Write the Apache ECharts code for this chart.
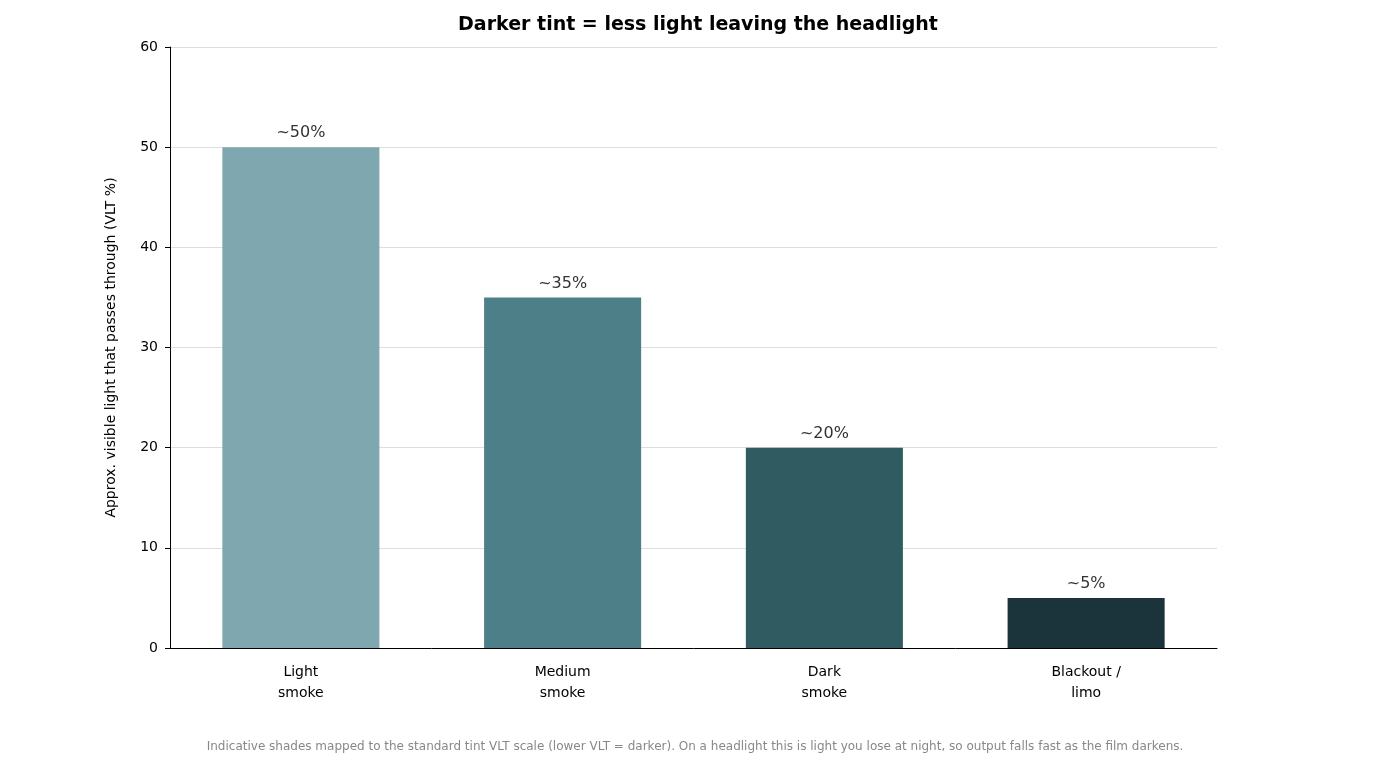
<!DOCTYPE html>
<html><head><meta charset="utf-8">
<script src="https://cdn.jsdelivr.net/npm/echarts@6/dist/echarts.min.js"></script>
<style>html,body{margin:0;padding:0;background:#fff}#c{width:1381px;height:768px}</style>
</head><body><div id="c"></div>
<script>
const categories = ["Light\nsmoke", "Medium\nsmoke", "Dark\nsmoke", "Blackout /\nlimo"];
const values = [50, 35, 20, 5];
const labels = ["~50%", "~35%", "~20%", "~5%"];
const colors = ["#7fa7af", "#4d7f88", "#2f5b61", "#1b333a"];
const yTicks = { min: 0, max: 60, interval: 10 };
const F = "DejaVu Sans";
const chart = echarts.init(document.getElementById('c'));
chart.setOption({
  animation: false,
  textStyle: { fontFamily: F },
  title: [{
    text: "Darker tint = less light leaving the headlight",
    left: 693, top: 11, textAlign: 'center',
    textStyle: { fontFamily: F, fontSize: 19, fontWeight: 'bold', color: '#000' }
  }, {
    text: "Indicative shades mapped to the standard tint VLT scale (lower VLT = darker). On a headlight this is light you lose at night, so output falls fast as the film darkens.",
    left: 690, top: 736, textAlign: 'center',
    textStyle: { fontFamily: F, fontSize: 12, fontWeight: 'normal', color: '#888' }
  }],
  grid: { left: 170, right: 164, top: 47, bottom: 120 },
  xAxis: {
    type: 'category', data: categories,
    axisLine: { lineStyle: { color: '#000' } },
    axisTick: { alignWithLabel: true, lineStyle: { color: '#000' } },
    axisLabel: { color: '#000', fontSize: 14, lineHeight: 21, margin: 14 }
  },
  yAxis: {
    type: 'value', min: yTicks.min, max: yTicks.max, interval: yTicks.interval,
    name: "Approx. visible light that passes through (VLT %)",
    nameLocation: 'middle', nameGap: 52,
    nameTextStyle: { fontSize: 14, color: '#000' },
    axisLine: { show: true, lineStyle: { color: '#000' } },
    axisTick: { show: true, lineStyle: { color: '#000' } },
    axisLabel: { color: '#000', fontSize: 14, margin: 12 },
    splitLine: { lineStyle: { color: '#dddddd' } }
  },
  series: [{
    type: 'bar', barWidth: '60%',
    data: values.map((v, i) => ({ value: v, itemStyle: { color: colors[i] } })),
    label: {
      show: true, position: 'top', distance: 6, fontSize: 16, color: '#333',
      formatter: p => labels[p.dataIndex]
    }
  }]
});
</script></body></html>
